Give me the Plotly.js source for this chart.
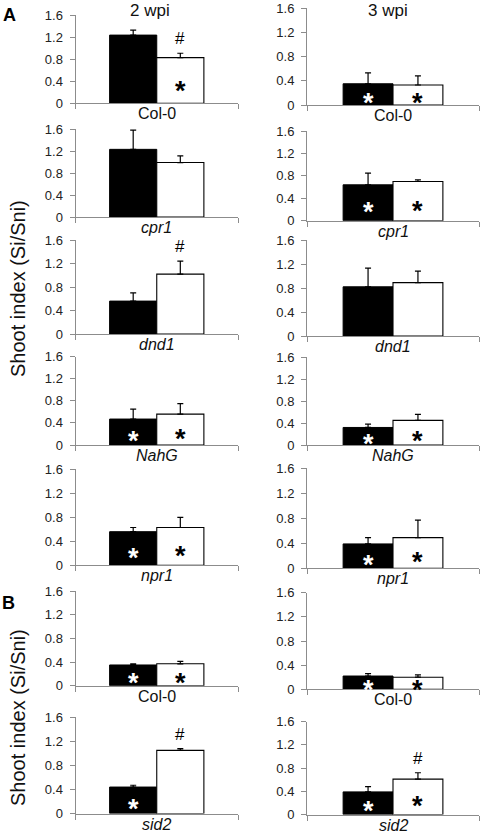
<!DOCTYPE html>
<html>
<head>
<meta charset="utf-8">
<script src="https://cdn.plot.ly/plotly-3.0.1.min.js"></script>
<style>
html,body{margin:0;padding:0;background:#fff;}
#chart{width:480px;height:833px;}
</style>
</head>
<body>
<div id="chart"></div>
<script>
// ---------- data ----------
const genotypes = ['Col-0','cpr1','dnd1','NahG','npr1','Col-0','sid2'];
const italicLabel = [false,true,true,true,true,false,true];
const columnTitles = ['2 wpi','3 wpi'];
const yTickVals = [0,0.4,0.8,1.2,1.6];
const yTickText = ['0','0.4','0.8','1.2','1.6'];

const wpi2Black    = [1.24,1.23,0.56,0.47,0.56,0.35,0.44];
const wpi2BlackErr = [0.09,0.35,0.14,0.18,0.07,0.02,0.03];
const wpi2White    = [0.83,0.99,1.02,0.56,0.63,0.37,1.05];
const wpi2WhiteErr = [0.08,0.12,0.22,0.19,0.17,0.04,0.03];

const wpi3Black    = [0.35,0.64,0.82,0.32,0.39,0.22,0.39];
const wpi3BlackErr = [0.18,0.21,0.31,0.06,0.10,0.04,0.09];
const wpi3White    = [0.33,0.70,0.89,0.45,0.49,0.20,0.61];
const wpi3WhiteErr = [0.15,0.03,0.19,0.11,0.28,0.04,0.11];

const wpi2BlackStar = [false,false,false,true,true,true,true];
const wpi2WhiteStar = [true,false,false,true,true,true,false];
const wpi2WhiteHash = [true,false,true,false,false,false,true];
const wpi3BlackStar = [true,true,false,true,true,true,true];
const wpi3WhiteStar = [true,true,false,true,true,true,true];
const wpi3WhiteHash = [false,false,false,false,false,false,true];

// ---------- layout geometry (pixels) ----------
const W = 480, H = 833;
const FONT = '"Liberation Sans", Arial, sans-serif';
const colX = [[75.5,238],[307,479]];
const rowY = [
  [[15.3,103.3],[129,217],[240,334],[356.7,445],[469.3,565.3],[591,685.7],[717.3,813.5]],
  [[8,105],[131,220.7],[240,336],[357.3,445],[468.3,568.3],[592.7,689.3],[721.7,814.5]]
];
const BARGAP = 0.42;
const AXIS_COLOR = '#8c8c8c';

const cols = [
  {black: wpi2Black, blackErr: wpi2BlackErr, white: wpi2White, whiteErr: wpi2WhiteErr,
   bStar: wpi2BlackStar, wStar: wpi2WhiteStar, wHash: wpi2WhiteHash},
  {black: wpi3Black, blackErr: wpi3BlackErr, white: wpi3White, whiteErr: wpi3WhiteErr,
   bStar: wpi3BlackStar, wStar: wpi3WhiteStar, wHash: wpi3WhiteHash}
];

const traces = [];
const annotations = [];
const layout = {
  width: W, height: H,
  margin: {l:0,r:0,t:0,b:0},
  paper_bgcolor: '#fff', plot_bgcolor: 'rgba(0,0,0,0)',
  showlegend: false,
  barmode: 'group', bargap: BARGAP, bargroupgap: 0,
  font: {family: FONT, color: '#222'},
  annotations: annotations
};

const halfW = (1 - BARGAP) / 2;      // width of one bar in x units
const xBlack = -halfW / 2, xWhite = halfW / 2;

for (let c = 0; c < 2; c++) {
  const d = cols[c];
  for (let r = 0; r < genotypes.length; r++) {
    const idx = r * 2 + c + 1;
    const xa = idx === 1 ? 'x' : 'x' + idx;
    const ya = idx === 1 ? 'y' : 'y' + idx;
    const xKey = idx === 1 ? 'xaxis' : 'xaxis' + idx;
    const yKey = idx === 1 ? 'yaxis' : 'yaxis' + idx;
    const [py16, py0] = rowY[c][r];

    traces.push({
      type: 'bar', x: [0], y: [d.black[r]], xaxis: xa, yaxis: ya,
      marker: {color: '#000', line: {color: '#000', width: 1}},
      error_y: {type: 'data', symmetric: false, array: [d.blackErr[r]], arrayminus: [0],
                color: '#000', thickness: 1.2, width: 3},
      hoverinfo: 'skip'
    });
    traces.push({
      type: 'bar', x: [0], y: [d.white[r]], xaxis: xa, yaxis: ya,
      marker: {color: '#fff', line: {color: '#000', width: 1.1}},
      error_y: {type: 'data', symmetric: false, array: [d.whiteErr[r]], arrayminus: [0],
                color: '#000', thickness: 1.2, width: 3},
      hoverinfo: 'skip'
    });

    layout[xKey] = {
      domain: [colX[c][0] / W, colX[c][1] / W],
      anchor: ya, type: 'linear', range: [-0.5, 0.5],
      tickvals: [-0.5, 0.5], showticklabels: false,
      ticks: 'outside', ticklen: 5, tickcolor: AXIS_COLOR, tickwidth: 1,
      showline: true, linecolor: AXIS_COLOR, linewidth: 1,
      showgrid: false, zeroline: false, fixedrange: true
    };
    layout[yKey] = {
      domain: [1 - py0 / H, 1 - py16 / H],
      anchor: xa, range: [0, 1.6],
      tickvals: yTickVals, ticktext: yTickText,
      ticks: 'outside', ticklen: 5, tickcolor: AXIS_COLOR, tickwidth: 1,
      ticklabelstandoff: 4, ticklabeloverflow: 'allow',
      tickfont: {size: 13, color: '#222', family: FONT},
      showline: true, linecolor: AXIS_COLOR, linewidth: 1,
      showgrid: false, zeroline: false, fixedrange: true
    };

    // category label under each panel
    annotations.push({
      xref: xa + ' domain', yref: ya + ' domain', x: 0.5, y: 0,
      xanchor: 'center', yanchor: 'top', yshift: 0, showarrow: false,
      text: italicLabel[r] ? '<i>' + genotypes[r] + '</i>' : genotypes[r],
      font: {size: 16, color: '#111', family: FONT}
    });

    // significance stars inside bars
    if (d.bStar[r]) annotations.push({
      xref: xa, yref: ya, x: xBlack, y: d.black[r] * 0.4, yshift: -6,
      xanchor: 'center', yanchor: 'middle', showarrow: false, text: '<b>*</b>',
      font: {size: 27, color: '#fff', family: FONT}
    });
    if (d.wStar[r]) annotations.push({
      xref: xa, yref: ya, x: xWhite, y: d.white[r] * 0.4, yshift: -6,
      xanchor: 'center', yanchor: 'middle', showarrow: false, text: '<b>*</b>',
      font: {size: 27, color: '#000', family: FONT}
    });
    if (d.wHash[r]) annotations.push({
      xref: xa, yref: ya, x: xWhite, y: d.white[r] + d.whiteErr[r], yshift: 3,
      xanchor: 'center', yanchor: 'bottom', showarrow: false, text: '#',
      font: {size: 17, color: '#000', family: FONT}
    });
  }
}

// column titles
annotations.push({xref:'paper', yref:'paper', x:150/W, y:1-10/H, xanchor:'center', yanchor:'middle',
  showarrow:false, text: columnTitles[0], font:{size:17, color:'#111', family:FONT}});
annotations.push({xref:'paper', yref:'paper', x:388/W, y:1-10/H, xanchor:'center', yanchor:'middle',
  showarrow:false, text: columnTitles[1], font:{size:17, color:'#111', family:FONT}});
// panel letters
annotations.push({xref:'paper', yref:'paper', x:9/W, y:1-15/H, xanchor:'center', yanchor:'middle',
  showarrow:false, text:'<b>A</b>', font:{size:18, color:'#000', family:FONT}});
annotations.push({xref:'paper', yref:'paper', x:8/W, y:1-603/H, xanchor:'center', yanchor:'middle',
  showarrow:false, text:'<b>B</b>', font:{size:18, color:'#000', family:FONT}});
// y-axis titles
annotations.push({xref:'paper', yref:'paper', x:18/W, y:1-289/H, xanchor:'center', yanchor:'middle',
  showarrow:false, textangle:-90, text:'Shoot index (Si/Sni)', font:{size:20, color:'#111', family:FONT}});
annotations.push({xref:'paper', yref:'paper', x:18/W, y:1-718/H, xanchor:'center', yanchor:'middle',
  showarrow:false, textangle:-90, text:'Shoot index (Si/Sni)', font:{size:20, color:'#111', family:FONT}});

Plotly.newPlot('chart', traces, layout, {staticPlot: true, displayModeBar: false});
</script>
</body>
</html>
